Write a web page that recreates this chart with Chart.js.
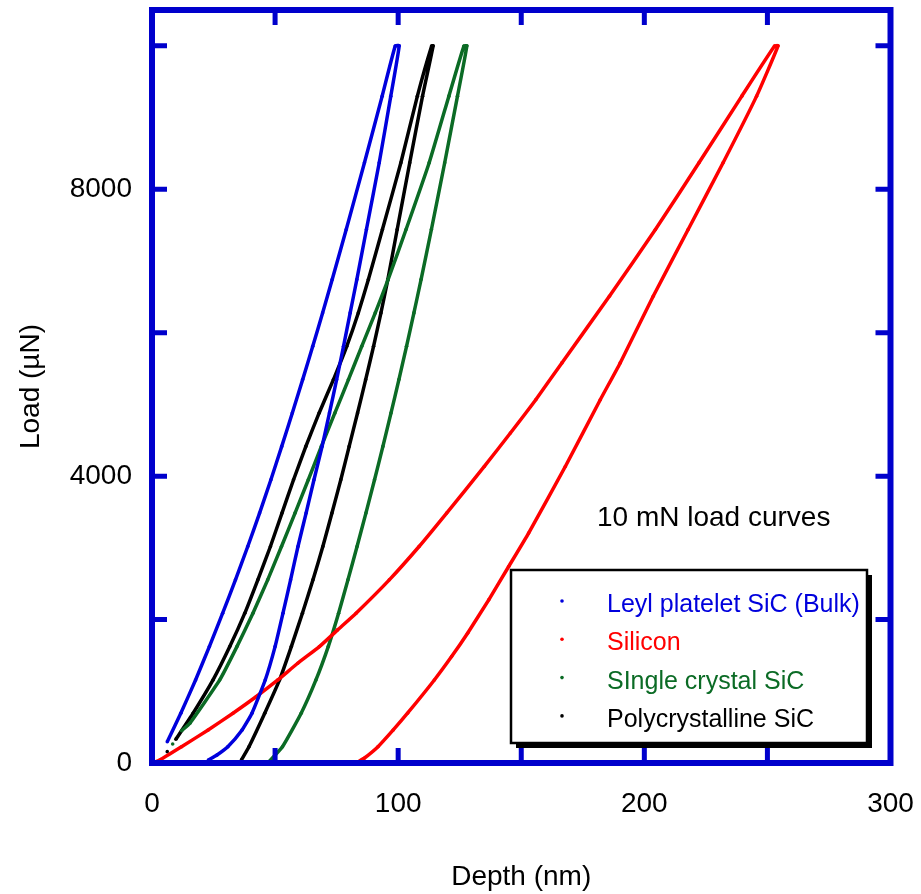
<!DOCTYPE html>
<html>
<head>
<meta charset="utf-8">
<title>10 mN load curves</title>
<script src="https://cdn.jsdelivr.net/npm/chart.js@4.4.1/dist/chart.umd.min.js"></script>
<style>
  body { margin: 0; background: #fff; }
  #wrap { width: 921px; height: 894px; }
</style>
</head>
<body>
<div id="wrap"><canvas id="myChart"></canvas></div>
<script>
// load / depth curves, depth in nm, load in µN
// each series: loading branch up to 10 mN, then unloading branch back down
// null splits off stray points so they are not joined to the curve

const leylDepth = [6.2, 11.7, 17.7, 23.3, 28.7, 33.9, 38.9, 43.7, 48.3, 52.7, 57.0, 61.2, 65.3, 69.3, 73.2, 78.9, 86.3, 93.5, 98.8, 100.4,
  97.0, 92.3, 87.1, 83.2, 80.5, 77.8, 75.0, 72.1, 69.1, 65.8, 62.6, 59.3, 56.3, 53.2, 50.0, 46.0, 40.6, 36.6, 30.8, 26.4, 22.9]
const leylLoad = [297, 694, 1158, 1623, 2089, 2554, 3019, 3485, 3950, 4415, 4881, 5346, 5810, 6276, 6741, 7439, 8370, 9299, 9997, 10000,
  9299, 8370, 7439, 6741, 6276, 5810, 5346, 4881, 4415, 3950, 3485, 3019, 2554, 2089, 1623, 1158, 694, 461, 227, 112, 42]

const siliconDepth = [0, 3.2, 12.0, 22.8, 32.9, 42.4, 51.1, 59.2, 68.0, 75.4, 82.9, 96.4, 108.5, 119.7, 135.0, 145.6, 155.9, 166.5, 185.8, 204.5, 222.2, 239.6, 252.9, 254.3,
  245.6, 232.0, 217.8, 203.6, 190.2, 182.1, 167.9, 153.0, 144.9, 136.8, 128.2, 121.7, 114.7, 103.8, 98.0, 91.8, 86.2, 83.8, null, 82.5, null, 77.1]
const siliconLoad = [0, 42, 227, 461, 694, 927, 1158, 1391, 1623, 1856, 2089, 2554, 3019, 3485, 4135, 4602, 5066, 5579, 6508, 7439, 8370, 9299, 9997, 10000,
  9299, 8370, 7439, 6508, 5579, 5066, 4135, 3206, 2740, 2275, 1810, 1484, 1158, 694, 461, 227, 66, 18, null, 0, null, 0]

const singleDepth = [8.4, null, 12.0, 15.4, 27.5, 34.5, 41.0, 47.0, 52.6, 58.1, 63.5, 68.8, 74.3, 79.8, 85.2, 90.7, 95.9, 103.2, 112.6, 120.6, 126.7, 127.9,
  124.1, 118.9, 113.5, 109.3, 106.4, 103.4, 100.3, 97.1, 93.8, 90.4, 86.9, 83.3, 79.6, 75.8, 71.6, 66.6, 60.6, 53.0, 47.5]
const singleLoad = [265, null, 450, 554, 1158, 1623, 2089, 2554, 3019, 3485, 3950, 4415, 4881, 5346, 5810, 6276, 6741, 7439, 8370, 9299, 9997, 10000,
  9299, 8370, 7439, 6741, 6276, 5810, 5346, 4881, 4415, 3950, 3485, 3019, 2554, 2089, 1623, 1158, 694, 227, 18]

const polyDepth = [0, null, 6.2, null, 9.7, 16.7, 24.8, 31.6, 37.7, 43.0, 48.1, 52.8, 57.5, 62.5, 67.9, 73.7, 79.1, 83.8, 87.9, 93.6, 101.1, 107.8, 113.6, 114.2,
  109.9, 104.7, 99.6, 95.8, 93.0, 90.0, 86.8, 83.5, 80.1, 76.7, 73.1, 69.4, 65.4, 61.1, 56.6, 51.8, 45.8, 39.4, 36.3, null, 34.3]
const polyLoad = [0, null, 158, null, 331, 694, 1158, 1623, 2089, 2554, 3019, 3485, 3950, 4415, 4881, 5346, 5810, 6276, 6741, 7439, 8370, 9299, 9997, 10000,
  9299, 8370, 7439, 6741, 6276, 5810, 5346, 4881, 4415, 3950, 3485, 3019, 2554, 2089, 1623, 1158, 694, 227, 42, null, 0]

const seriesNames = ["Leyl platelet SiC (Bulk)", "Silicon", "SIngle crystal SiC", "Polycrystalline SiC"]
const seriesColors = ["#0000dd", "#ff0000", "#0b6b25", "#000000"]

// axis ticks (every tick gets a mark, only some get a number)
const depthTicks = [0, 50, 100, 150, 200, 250, 300]
const depthLabels = [0, 100, 200, 300]
const loadTicks = [0, 2000, 4000, 6000, 8000, 10000]
const loadLabels = [0, 4000, 8000]

const FONT = "'Liberation Sans', Arial, sans-serif"
const frameColor = "#0000cc"

function toPoints(depth, load) {
  return depth.map((d, i) => (d === null ? { x: null, y: null } : { x: d, y: load[i] }))
}

const allDepth = [leylDepth, siliconDepth, singleDepth, polyDepth]
const allLoad = [leylLoad, siliconLoad, singleLoad, polyLoad]

const datasets = seriesNames.map((name, i) => ({
  label: name,
  data: toPoints(allDepth[i], allLoad[i]),
  showLine: true,
  borderColor: seriesColors[i],
  backgroundColor: seriesColors[i],
  borderWidth: 3.5,
  pointRadius: 1.8,
  pointBorderWidth: 0,
  pointHoverRadius: 0,
  tension: 0.15,
  spanGaps: false,
}))

// blue box with inward ticks on all four sides
const framePlugin = {
  id: "frame",
  afterDatasetsDraw(chart) {
    const ctx = chart.ctx
    const { left, right, top, bottom } = chart.chartArea
    const xs = chart.scales.x
    const ys = chart.scales.y
    const len = 15
    ctx.save()
    ctx.strokeStyle = frameColor
    ctx.lineCap = "butt"
    ctx.lineWidth = 5
    ctx.beginPath()
    depthTicks.forEach((v) => {
      const px = xs.getPixelForValue(v)
      ctx.moveTo(px, bottom)
      ctx.lineTo(px, bottom - len)
      ctx.moveTo(px, top)
      ctx.lineTo(px, top + len)
    })
    loadTicks.forEach((v) => {
      const py = ys.getPixelForValue(v)
      ctx.moveTo(left, py)
      ctx.lineTo(left + len, py)
      ctx.moveTo(right, py)
      ctx.lineTo(right - len, py)
    })
    ctx.stroke()
    ctx.lineWidth = 6
    ctx.strokeRect(left, top, right - left, bottom - top)
    ctx.restore()
  },
}

// note text and the boxed legend with a drop shadow
const legendPlugin = {
  id: "boxLegend",
  afterDraw(chart) {
    const ctx = chart.ctx
    ctx.save()
    ctx.fillStyle = "#000"
    ctx.font = "28px " + FONT
    ctx.textBaseline = "alphabetic"
    ctx.fillText("10 mN load curves", 597, 526)

    const bx = 511, by = 570, bw = 356, bh = 173
    ctx.fillStyle = "#000"
    ctx.fillRect(bx + 5, by + 5, bw, bh)
    ctx.fillStyle = "#fff"
    ctx.fillRect(bx, by, bw, bh)
    ctx.strokeStyle = "#000"
    ctx.lineWidth = 2.5
    ctx.strokeRect(bx, by, bw, bh)

    ctx.font = "25px " + FONT
    chart.data.datasets.forEach((ds, i) => {
      const base = 612 + i * 38.3
      ctx.fillStyle = ds.borderColor
      ctx.beginPath()
      ctx.arc(562, base - 11, 1.8, 0, Math.PI * 2)
      ctx.fill()
      ctx.fillText(ds.label, 607, base)
    })
    ctx.restore()
  },
}

new Chart(document.querySelector("#myChart"), {
  type: "scatter",
  data: { datasets: datasets },
  options: {
    responsive: true,
    maintainAspectRatio: false,
    animation: false,
    layout: { padding: { top: 10, right: 30.5, left: 0, bottom: 0 } },
    plugins: {
      legend: { display: false },
      tooltip: { enabled: false },
    },
    scales: {
      x: {
        type: "linear",
        min: 0,
        max: 300,
        grid: { display: false, drawTicks: false },
        border: { display: false },
        afterBuildTicks: (scale) => {
          scale.ticks = depthTicks.map((v) => ({ value: v }))
        },
        ticks: {
          autoSkip: false,
          padding: 24,
          color: "#000",
          font: { family: FONT, size: 28 },
          maxRotation: 0,
          callback: (v) => (depthLabels.includes(v) ? v : ""),
        },
        title: {
          display: true,
          text: "Depth (nm)",
          color: "#000",
          font: { family: FONT, size: 28 },
          padding: { top: 2, bottom: 0 },
        },
        afterFit: (scale) => {
          scale.height = 131
          scale.paddingLeft = 0
          scale.paddingRight = 0
        },
      },
      y: {
        type: "linear",
        min: 0,
        max: 10500,
        grid: { display: false, drawTicks: false },
        border: { display: false },
        afterBuildTicks: (scale) => {
          scale.ticks = loadTicks.map((v) => ({ value: v }))
        },
        ticks: {
          autoSkip: false,
          padding: 20,
          color: "#000",
          font: { family: FONT, size: 28 },
          callback: (v) => (loadLabels.includes(v) ? v : ""),
        },
        title: {
          display: true,
          text: "Load (µN)",
          color: "#000",
          font: { family: FONT, size: 28 },
          padding: { top: 14, bottom: 0 },
        },
        afterFit: (scale) => {
          scale.width = 152
          scale.paddingTop = 0
          scale.paddingBottom = 0
        },
      },
    },
  },
  plugins: [framePlugin, legendPlugin],
})
</script>
</body>
</html>
